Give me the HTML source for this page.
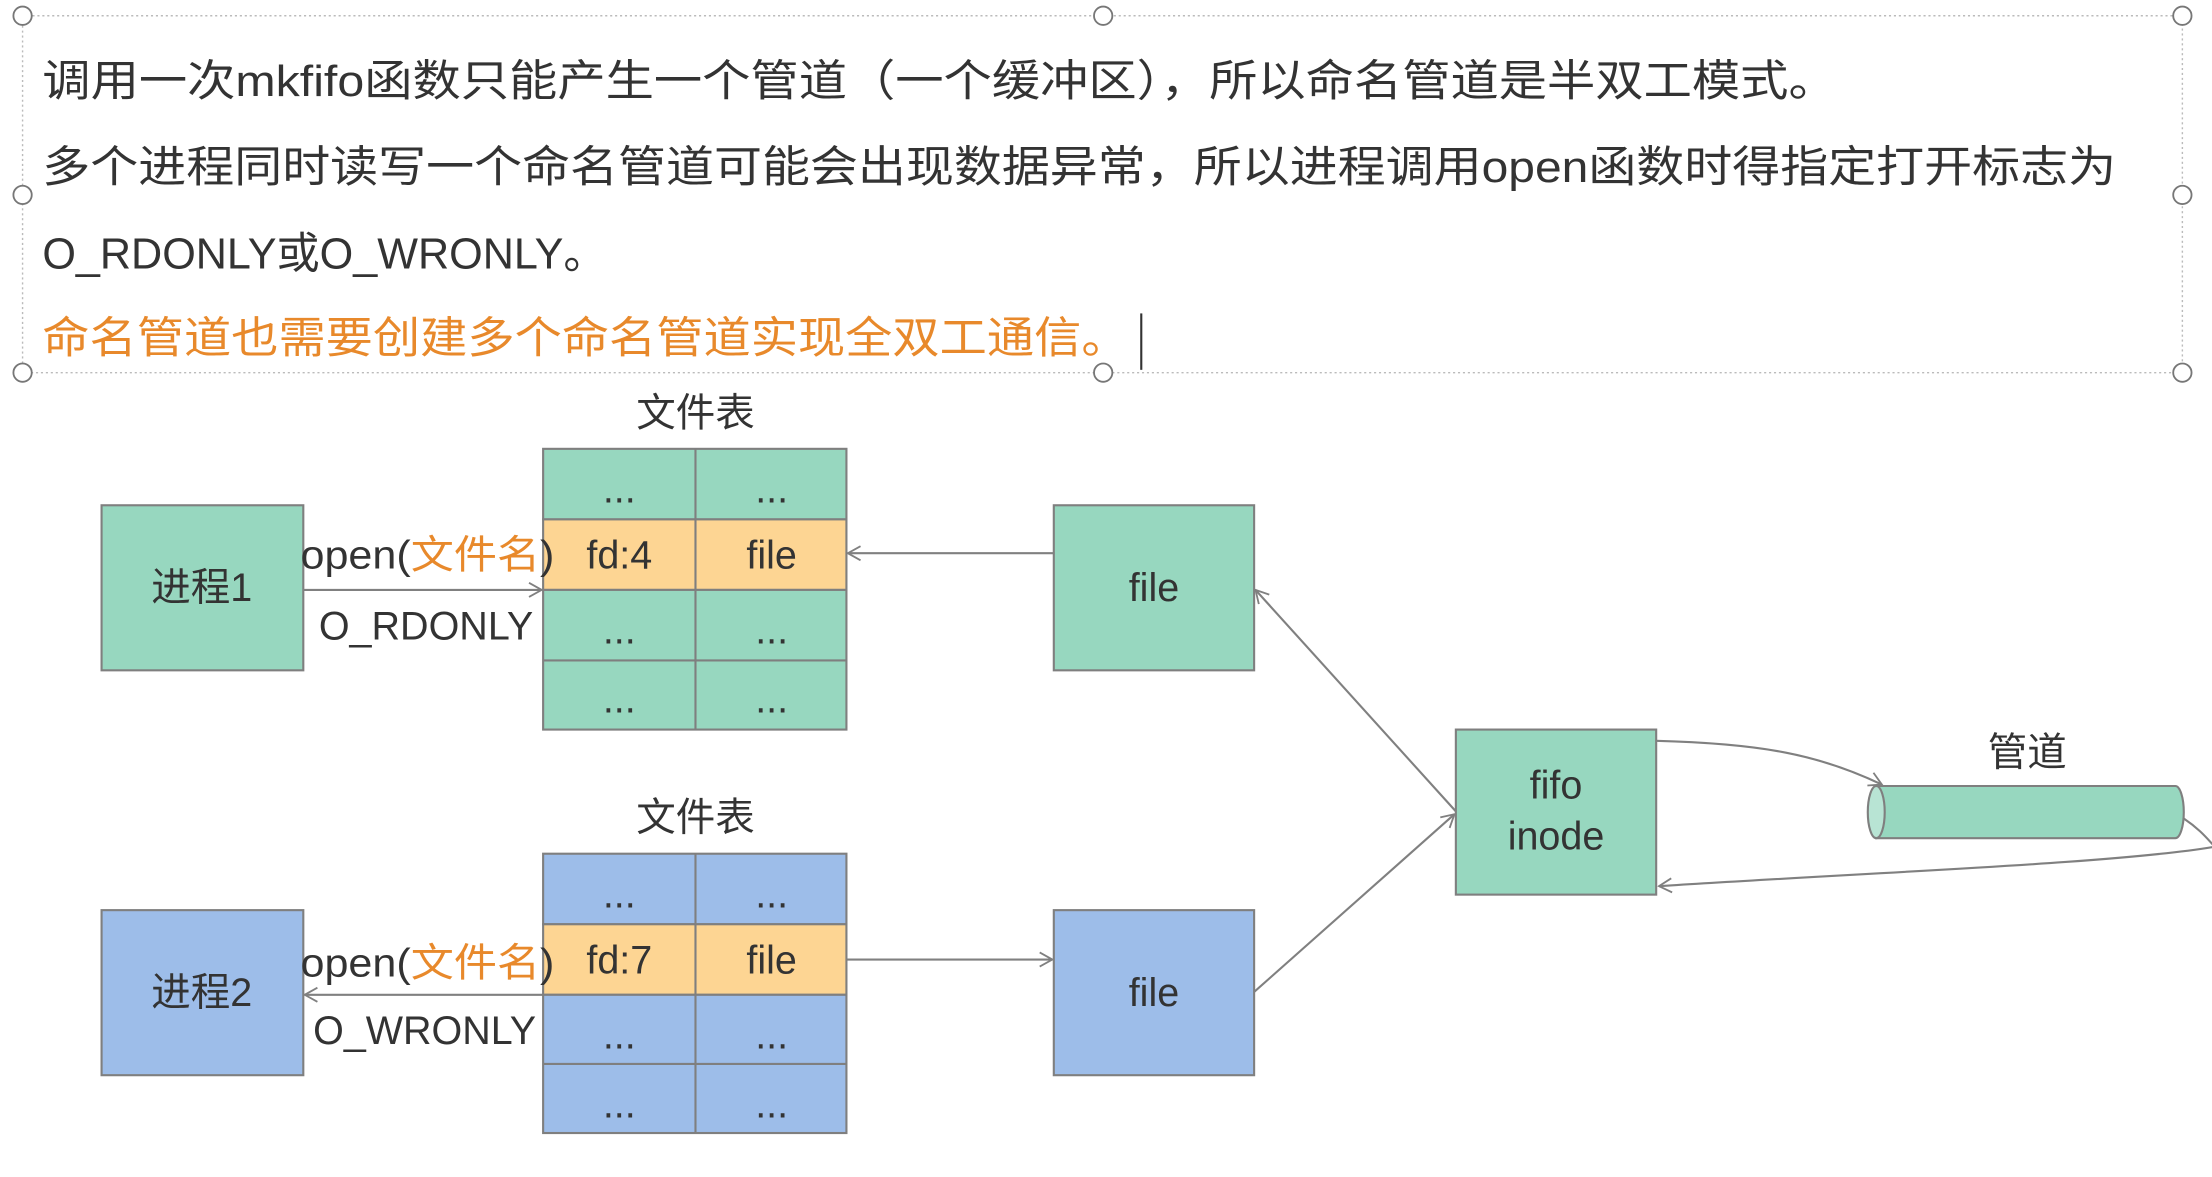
<!DOCTYPE html>
<html><head><meta charset="utf-8"><style>
html,body{margin:0;padding:0;background:#fff;}
svg{display:block;}
text{font-family:"Liberation Sans","Noto Sans CJK SC",sans-serif;fill:#333;}
</style></head><body>
<svg width="2212" height="1177" viewBox="0 0 1568 834" xmlns="http://www.w3.org/2000/svg">
<defs>
<marker id="a" markerWidth="12" markerHeight="12" refX="10" refY="6" orient="auto" markerUnits="userSpaceOnUse">
<path d="M1,1 L10,6 L1,11" fill="none" stroke="#808080" stroke-width="1.3"/>
</marker>
</defs>
<rect width="1568" height="834" fill="#fff"/>
<rect x="16" y="11" width="1531" height="253" fill="none" stroke="#bbb" stroke-width="1" stroke-dasharray="1.5,2"/>
<g fill="#fff" stroke="#777" stroke-width="1.3">
<circle cx="16" cy="11" r="6.5"/><circle cx="782" cy="11" r="6.5"/><circle cx="1547" cy="11" r="6.5"/>
<circle cx="16" cy="138" r="6.5"/><circle cx="1547" cy="138" r="6.5"/>
<circle cx="16" cy="264" r="6.5"/><circle cx="782" cy="264" r="6.5"/><circle cx="1547" cy="264" r="6.5"/>
</g>
<g font-size="31">
<text x="30" y="68" textLength="1272" lengthAdjust="spacingAndGlyphs">调用一次mkfifo函数只能产生一个管道（一个缓冲区），所以命名管道是半双工模式。</text>
<text x="30" y="129" textLength="1470" lengthAdjust="spacingAndGlyphs">多个进程同时读写一个命名管道可能会出现数据异常，所以进程调用open函数时得指定打开标志为</text>
<text x="30" y="190" textLength="400" lengthAdjust="spacingAndGlyphs">O_RDONLY或O_WRONLY。</text>
<text x="30" y="250" textLength="770" lengthAdjust="spacingAndGlyphs" style="fill:#e8892b">命名管道也需要创建多个命名管道实现全双工通信。</text>
</g>
<line x1="809" y1="222" x2="809" y2="262" stroke="#333" stroke-width="1.5"/>

<g stroke="#7f7f7f" stroke-width="1.5">
<rect x="72" y="358" width="143" height="117" fill="#97d7bf"/>
<rect x="747" y="358" width="142" height="117" fill="#97d7bf"/>
<rect x="1032" y="517" width="142" height="117" fill="#97d7bf"/>
<rect x="72" y="645" width="143" height="117" fill="#9dbde9"/>
<rect x="747" y="645" width="142" height="117" fill="#9dbde9"/>
<rect x="385" y="318" width="215" height="50" fill="#97d7bf"/>
<rect x="385" y="368" width="215" height="50" fill="#fdd593"/>
<rect x="385" y="418" width="215" height="99" fill="#97d7bf"/>
<line x1="385" y1="468" x2="600" y2="468"/>
<line x1="493" y1="318" x2="493" y2="517"/>
<rect x="385" y="605" width="215" height="50" fill="#9dbde9"/>
<rect x="385" y="655" width="215" height="50" fill="#fdd593"/>
<rect x="385" y="705" width="215" height="98" fill="#9dbde9"/>
<line x1="385" y1="754" x2="600" y2="754"/>
<line x1="493" y1="605" x2="493" y2="803"/>
<path d="M1330,557 L1542,557 A6,18.5 0 0 1 1542,594 L1330,594 Z" fill="#97d7bf"/>
<ellipse cx="1330" cy="575.5" rx="6" ry="18.5" fill="#b8e4d4"/>
</g>

<g font-size="28" text-anchor="middle">
<text x="143" y="426">进程1</text>
<text x="143" y="713">进程2</text>
<text x="818" y="426">file</text>
<text x="818" y="713">file</text>
<text x="1103" y="566">fifo</text>
<text x="1103" y="602">inode</text>
<text x="493" y="302">文件表</text>
<text x="493" y="589">文件表</text>
<text x="1437" y="543">管道</text>
<text x="439" y="356">...</text><text x="547" y="356">...</text>
<text x="439" y="403">fd:4</text><text x="547" y="403">file</text>
<text x="439" y="456">...</text><text x="547" y="456">...</text>
<text x="439" y="505">...</text><text x="547" y="505">...</text>
<text x="439" y="643">...</text><text x="547" y="643">...</text>
<text x="439" y="690">fd:7</text><text x="547" y="690">file</text>
<text x="439" y="743">...</text><text x="547" y="743">...</text>
<text x="439" y="792">...</text><text x="547" y="792">...</text>
</g>
<g font-size="28">
<text x="213" y="403" textLength="180" lengthAdjust="spacingAndGlyphs">open(<tspan style="fill:#e8892b">文件名</tspan>)</text>
<text x="226" y="453" textLength="152" lengthAdjust="spacingAndGlyphs">O_RDONLY</text>
<text x="213" y="692" textLength="180" lengthAdjust="spacingAndGlyphs">open(<tspan style="fill:#e8892b">文件名</tspan>)</text>
<text x="222" y="740" textLength="158" lengthAdjust="spacingAndGlyphs">O_WRONLY</text>
</g>

<g stroke="#808080" stroke-width="1.5" fill="none">
<line x1="215" y1="418" x2="384" y2="418" marker-end="url(#a)"/>
<line x1="747" y1="392" x2="601" y2="392" marker-end="url(#a)"/>
<line x1="385" y1="705" x2="216" y2="705" marker-end="url(#a)"/>
<line x1="600" y1="680" x2="746" y2="680" marker-end="url(#a)"/>
<line x1="1032" y1="575" x2="890" y2="418" marker-end="url(#a)"/>
<line x1="889" y1="703" x2="1031" y2="577" marker-end="url(#a)"/>
<path d="M1174,525 C1250,527 1290,535 1334,556" marker-end="url(#a)"/>
<path d="M1548,580 C1560,588 1566,596 1570,600"/>
<path d="M1570,600 C1500,612 1330,618 1176,628" marker-end="url(#a)"/>
</g>
</svg>
</body></html>
